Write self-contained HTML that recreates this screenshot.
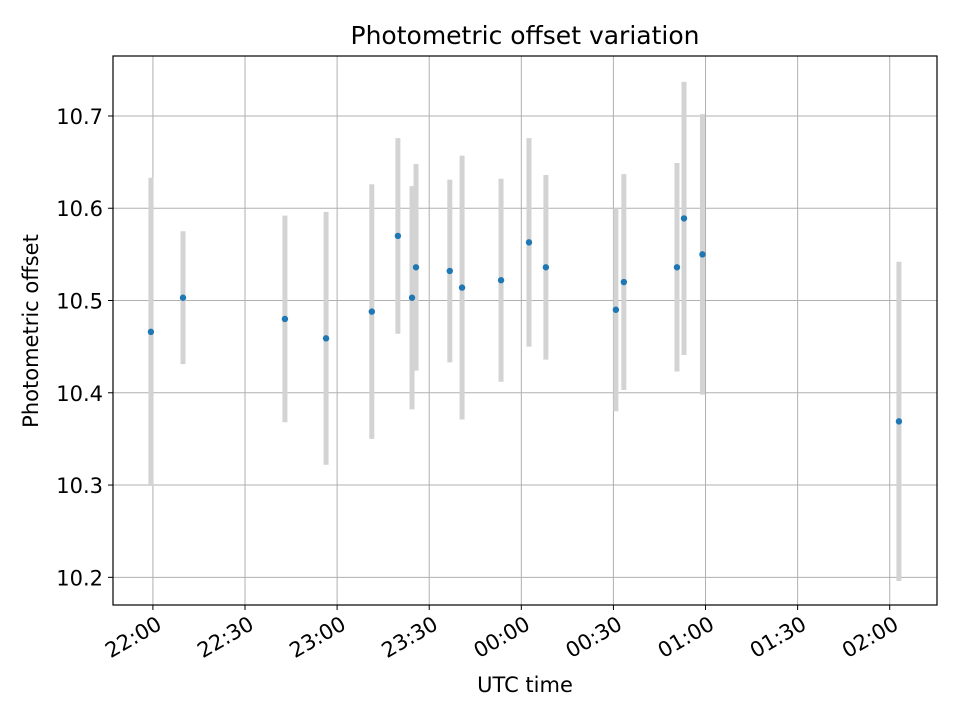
<!DOCTYPE html>
<html><head><meta charset="utf-8"><style>
body{margin:0;background:#fff;font-family:"Liberation Sans","DejaVu Sans",sans-serif}
svg text{font-family:"DejaVu Sans","Liberation Sans",sans-serif;font-size:21px;fill:#000}
</style></head><body>
<svg id="chart" width="960" height="720">
<rect width="960" height="720" fill="#fff"/>
<g id="grid"></g><g id="bars"></g><g id="pts"></g><g id="ticks"></g>
<rect x="113" y="56" width="824" height="549" fill="none" stroke="#000" stroke-width="1.2"/>
<text x="525" y="44" text-anchor="middle" style="font-size:25px">Photometric offset variation</text>
<text x="525" y="692" text-anchor="middle">UTC time</text>
<text transform="translate(38,331) rotate(-90)" text-anchor="middle">Photometric offset</text>
</svg>
<script>
// minutes after 22:00 UTC
const times=[-0.65,9.8,43,56.4,71.3,79.8,84.4,85.7,96.7,100.7,113.4,122.5,128,150.8,153.4,170.7,173,179,243];
const offsets=[10.466,10.503,10.480,10.459,10.488,10.570,10.503,10.536,10.532,10.514,10.522,10.563,10.536,10.490,10.520,10.536,10.589,10.550,10.369];
const errors=[0.167,0.072,0.112,0.137,0.138,0.106,0.121,0.112,0.099,0.143,0.110,0.113,0.100,0.110,0.117,0.113,0.148,0.152,0.173];
const xTicks=[0,30,60,90,120,150,180,210,240];
const xTickLabels=["22:00","22:30","23:00","23:30","00:00","00:30","01:00","01:30","02:00"];
const yTicks=[10.2,10.3,10.4,10.5,10.6,10.7];
const yTickLabels=["10.2","10.3","10.4","10.5","10.6","10.7"];
const X0=113,X1=937,Y0=56,Y1=605,xmin=-13,xmax=255.4,ymin=10.170,ymax=10.765;
const sx=v=>X0+(v-xmin)/(xmax-xmin)*(X1-X0);
const sy=v=>Y1-(v-ymin)/(ymax-ymin)*(Y1-Y0);
const NS="http://www.w3.org/2000/svg";
function mk(tag,attrs,parent){const e=document.createElementNS(NS,tag);for(const k in attrs)e.setAttribute(k,attrs[k]);document.getElementById(parent).appendChild(e);return e;}
xTicks.forEach((t,i)=>{const x=sx(t);
 const g=mk('line',{x1:x,x2:x,y1:Y0,y2:Y1,stroke:'#b0b0b0','stroke-width':1},'grid');
 
 
 const tk=mk('line',{x1:x,x2:x,y1:Y1,y2:Y1+5,stroke:'#000'},'ticks');
 
 
 const ax=x+2,ay=Y1+9;
 const tx=mk('text',{x:ax,y:ay,dy:'0.78em','text-anchor':'end',transform:`rotate(-30 ${ax} ${ay})`},'ticks');
 tx.textContent=xTickLabels[i];
 
 
});
yTicks.forEach((t,i)=>{const y=sy(t);
 const g=mk('line',{x1:X0,x2:X1,y1:y,y2:y,stroke:'#b0b0b0','stroke-width':1},'grid');
 
 
 const tk=mk('line',{x1:X0-5,x2:X0,y1:y,y2:y,stroke:'#000'},'ticks');
 
 
 const tx=mk('text',{x:X0-10,y:y+8,'text-anchor':'end'},'ticks');
 tx.textContent=yTickLabels[i];
 
 
});
times.forEach((t,i)=>{const x=sx(t);
 const b=mk('line',{x1:x,x2:x,y1:sy(offsets[i]+errors[i]),y2:sy(offsets[i]-errors[i]),stroke:'#d3d3d3','stroke-width':5},'bars');
 
 
 const p=mk('circle',{cx:x,cy:sy(offsets[i]),r:3.2,fill:'#1f77b4'},'pts');
 
 
});
</script>
</body></html>
